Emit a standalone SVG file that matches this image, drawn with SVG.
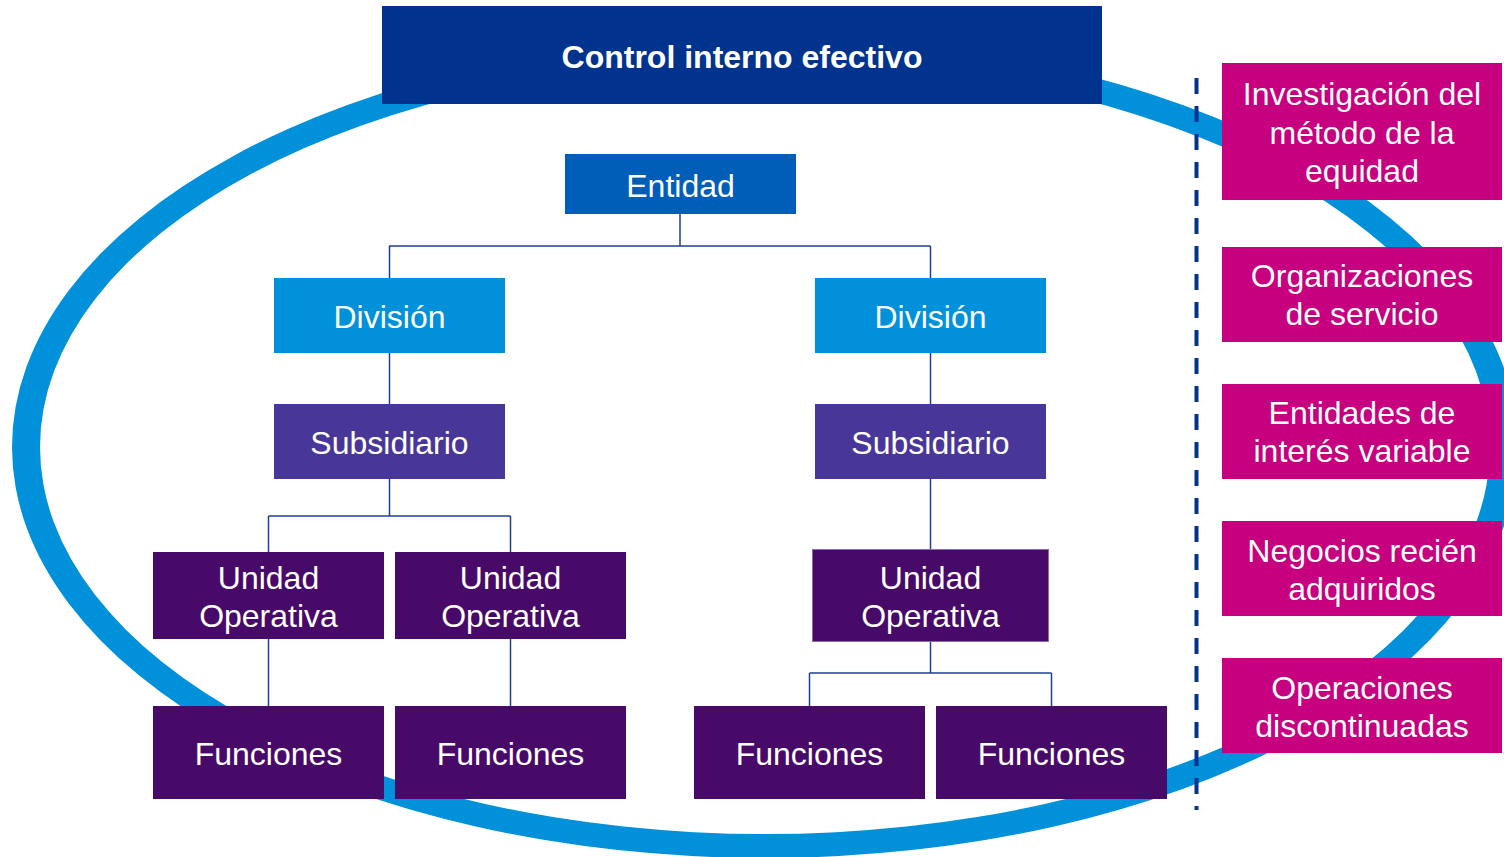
<svg xmlns="http://www.w3.org/2000/svg" width="1504" height="857" viewBox="0 0 1504 857">
<style>
  .t{font-family:"Liberation Sans",Arial,sans-serif;font-size:32px;fill:#ffffff;text-anchor:middle}
  .b{font-weight:bold}
  .title{fill:#00338D}
  .ent{fill:#005EB8}
  .div{fill:#0091DA}
  .sub{fill:#483698}
  .uni{fill:#470A68}
  .mag{fill:#C6007E}
  .conn line{stroke:#1F3C98;stroke-width:1.5;fill:none}
</style>
<rect width="1504" height="857" fill="#ffffff"/>
<g id="ellipse">
  <path fill="#0091DA" fill-rule="evenodd" d="M12,447 A753,411 0 1,0 1518,447 A753,411 0 1,0 12,447 Z M40,447 A725,387 0 1,0 1490,447 A725,387 0 1,0 40,447 Z"/>
</g>
<g id="divider">
  <line x1="1196.5" y1="78" x2="1196.5" y2="810" stroke="#00338D" stroke-width="4" stroke-dasharray="16 12"/>
</g>
<g id="connectors" class="conn">
  <line x1="680" y1="214" x2="680" y2="246"/>
  <line x1="389" y1="246" x2="930.5" y2="246"/>
  <line x1="389.5" y1="246" x2="389.5" y2="278"/>
  <line x1="930.5" y1="246" x2="930.5" y2="278"/>
  <line x1="389.5" y1="353" x2="389.5" y2="404"/>
  <line x1="930.5" y1="353" x2="930.5" y2="404"/>
  <line x1="389.5" y1="479" x2="389.5" y2="516"/>
  <line x1="268.5" y1="516" x2="510.5" y2="516"/>
  <line x1="268.5" y1="516" x2="268.5" y2="552"/>
  <line x1="510.5" y1="516" x2="510.5" y2="552"/>
  <line x1="268.5" y1="639" x2="268.5" y2="706"/>
  <line x1="510.5" y1="639" x2="510.5" y2="706"/>
  <line x1="930.5" y1="479" x2="930.5" y2="549"/>
  <line x1="930.5" y1="642" x2="930.5" y2="673"/>
  <line x1="809.5" y1="673" x2="1051.5" y2="673"/>
  <line x1="809.5" y1="673" x2="809.5" y2="706"/>
  <line x1="1051.5" y1="673" x2="1051.5" y2="706"/>
</g>
<g id="control">
  <rect class="title" x="382" y="6" width="720" height="98"/>
  <text class="t b" x="742" y="68">Control interno efectivo</text>
</g>
<g id="entidad">
  <rect class="ent" x="565" y="154" width="231" height="60"/>
  <text class="t" x="680.5" y="197">Entidad</text>
</g>
<g id="division1">
  <rect class="div" x="274" y="278" width="231" height="75"/>
  <text class="t" x="389.5" y="328">División</text>
</g>
<g id="division2">
  <rect class="div" x="815" y="278" width="231" height="75"/>
  <text class="t" x="930.5" y="328">División</text>
</g>
<g id="subsidiario1">
  <rect class="sub" x="274" y="404" width="231" height="75"/>
  <text class="t" x="389.5" y="454">Subsidiario</text>
</g>
<g id="subsidiario2">
  <rect class="sub" x="815" y="404" width="231" height="75"/>
  <text class="t" x="930.5" y="454">Subsidiario</text>
</g>
<g id="unidad1">
  <rect class="uni" x="153" y="552" width="231" height="87"/>
  <text class="t" x="268.5" y="589">Unidad</text>
  <text class="t" x="268.5" y="627">Operativa</text>
</g>
<g id="unidad2">
  <rect class="uni" x="395" y="552" width="231" height="87"/>
  <text class="t" x="510.5" y="589">Unidad</text>
  <text class="t" x="510.5" y="627">Operativa</text>
</g>
<g id="unidad3">
  <rect class="uni" x="812.5" y="549.5" width="236" height="92" stroke="#8C6BAE" stroke-width="1"/>
  <text class="t" x="930.5" y="589">Unidad</text>
  <text class="t" x="930.5" y="627">Operativa</text>
</g>
<g id="funciones1">
  <rect class="uni" x="153" y="706" width="231" height="93"/>
  <text class="t" x="268.5" y="765">Funciones</text>
</g>
<g id="funciones2">
  <rect class="uni" x="395" y="706" width="231" height="93"/>
  <text class="t" x="510.5" y="765">Funciones</text>
</g>
<g id="funciones3">
  <rect class="uni" x="694" y="706" width="231" height="93"/>
  <text class="t" x="809.5" y="765">Funciones</text>
</g>
<g id="funciones4">
  <rect class="uni" x="936" y="706" width="231" height="93"/>
  <text class="t" x="1051.5" y="765">Funciones</text>
</g>
<g id="investigacion">
  <rect class="mag" x="1222" y="63" width="280" height="137"/>
  <text class="t" x="1362" y="105">Investigación del</text>
  <text class="t" x="1362" y="144">método de la</text>
  <text class="t" x="1362" y="182">equidad</text>
</g>
<g id="organizaciones">
  <rect class="mag" x="1222" y="247" width="280" height="95"/>
  <text class="t" x="1362" y="287">Organizaciones</text>
  <text class="t" x="1362" y="325">de servicio</text>
</g>
<g id="entidades">
  <rect class="mag" x="1222" y="384" width="280" height="95"/>
  <text class="t" x="1362" y="424">Entidades de</text>
  <text class="t" x="1362" y="462">interés variable</text>
</g>
<g id="negocios">
  <rect class="mag" x="1222" y="521" width="280" height="95"/>
  <text class="t" x="1362" y="562">Negocios recién</text>
  <text class="t" x="1362" y="600">adquiridos</text>
</g>
<g id="operaciones">
  <rect class="mag" x="1222" y="658" width="280" height="95"/>
  <text class="t" x="1362" y="699">Operaciones</text>
  <text class="t" x="1362" y="737">discontinuadas</text>
</g>
</svg>
